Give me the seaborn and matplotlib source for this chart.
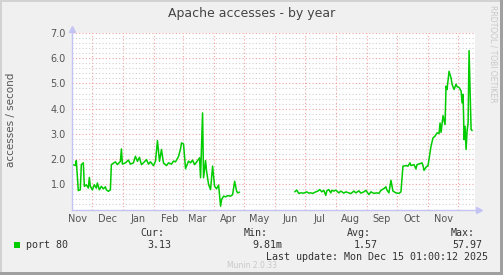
import numpy as np
import pandas as pd
import matplotlib
matplotlib.use("Agg")
import matplotlib.pyplot as plt
import matplotlib.dates as mdates
from matplotlib.ticker import MultipleLocator, FixedLocator, NullFormatter
from matplotlib.patches import Rectangle
import seaborn as sns

# ---------------- data (days after 2024-12-01, accesses/second) ----------------
seg1_days = [-19, -17, -16, -14, -12, -11, -9, -8, -6, -4, -3, -2, 0, 2, 4, 5, 7, 9, 11, 13,
             14, 16, 18, 19, 23, 25, 28, 29, 30, 33, 36, 38, 41, 43, 45, 47, 49, 51, 54, 56,
             58, 61, 63, 65, 67, 69, 71, 74, 76, 79, 81, 83, 86, 88, 89, 91, 93, 96, 98, 100,
             102, 104, 107, 108, 110, 111, 113, 114, 116, 118, 120, 122, 124, 126, 128, 129,
             131, 133, 135, 138, 140, 142, 144, 145, 147]
seg1_vals = [1.78, 1.74, 1.94, 0.75, 0.78, 1.78, 1.85, 0.92, 0.98, 0.85, 1.27, 0.92, 0.78, 0.98,
             0.85, 1.05, 0.78, 0.92, 0.82, 0.90, 0.78, 0.72, 0.78, 1.78, 1.89, 1.78, 1.91, 2.40,
             1.80, 1.85, 1.96, 1.80, 1.85, 2.11, 1.91, 2.07, 1.78, 1.85, 1.98, 1.80, 1.89, 1.74,
             1.91, 2.73, 1.91, 2.38, 1.85, 1.74, 1.85, 1.80, 1.92, 1.89, 2.10, 2.40, 2.64, 2.60,
             1.62, 1.92, 1.85, 1.96, 1.78, 1.88, 2.05, 1.26, 3.83, 1.26, 1.94, 1.52, 0.99, 0.79,
             1.72, 0.92, 0.82, 0.97, 0.13, 0.40, 0.53, 0.50, 0.55, 0.53, 0.59, 1.12, 0.73, 0.66,
             0.69]
seg2_days = [202, 204, 206, 208, 211, 214, 216, 218, 220, 223, 225, 227, 229, 231, 233, 234,
             236, 238, 239, 241, 243, 246, 248, 251, 253, 256, 258, 261, 263, 266, 268, 271,
             273, 276, 278, 281, 284, 286, 288, 291, 293, 294, 296, 298, 300, 303, 306, 308,
             310, 313, 315, 317, 318, 321, 323, 324, 327, 329, 330, 331, 333, 335, 337, 338,
             340, 342, 344, 346, 347, 348, 350, 352, 353, 354, 356, 358, 359, 361, 363, 364,
             366, 368, 369, 370, 371, 372, 373, 374, 375, 376, 378, 379]
seg2_vals = [0.70, 0.77, 0.64, 0.66, 0.65, 0.70, 0.65, 0.66, 0.64, 0.70, 0.73, 0.79, 0.70, 0.76,
             0.56, 0.74, 0.79, 0.66, 0.76, 0.73, 0.77, 0.66, 0.73, 0.65, 0.70, 0.66, 0.63, 0.73,
             0.66, 0.74, 0.65, 0.70, 0.76, 0.59, 0.70, 0.64, 0.66, 0.64, 0.76, 0.83, 0.90, 0.77,
             0.66, 1.16, 0.73, 0.66, 0.64, 0.70, 1.72, 1.74, 1.72, 1.85, 1.74, 1.78, 1.61, 1.78,
             1.82, 1.85, 1.74, 1.55, 1.68, 1.74, 2.25, 2.51, 2.84, 2.91, 3.04, 3.01, 3.43, 3.06,
             3.72, 3.37, 4.89, 4.76, 5.48, 5.22, 4.97, 4.76, 4.97, 4.87, 4.84, 4.70, 4.23, 4.57,
             2.77, 3.30, 2.38, 3.10, 3.43, 6.30, 3.17, 3.13]

y_ticks = [1, 2, 3, 4, 5, 6, 7]
month_label_dates = pd.date_range("2024-11-01", "2025-11-01", freq="MS") + pd.Timedelta(days=15)
series_name = "port 80"
stat_labels = ["Cur:", "Min:", "Avg:", "Max:"]
stat_values = ["3.13", "9.81m", "1.57", "57.97"]
title = "Apache accesses - by year"
y_label = "accesses / second"
last_update = "Last update: Mon Dec 15 01:00:12 2025"

base = pd.Timestamp("2024-12-01")
df = pd.concat([
    pd.DataFrame({"date": base + pd.to_timedelta(seg1_days, unit="D"), "value": seg1_vals, "seg": 1}),
    pd.DataFrame({"date": base + pd.to_timedelta(seg2_days, unit="D"), "value": seg2_vals, "seg": 2}),
], ignore_index=True)

# ---------------- figure ----------------
sns.set_style("white")
plt.rcParams["font.family"] = ["DejaVu Sans"]

W, H = 503, 275
fig = plt.figure(figsize=(W / 100, H / 100), dpi=100, facecolor="#F0F0F0")


def fx(x):
    return x / W


def fy(y):
    return 1 - y / H


ax = fig.add_axes([fx(72), fy(209.5), (475 - 72) / W, (209.5 - 33) / H])
ax.set_facecolor("white")

sns.lineplot(data=df, x="date", y="value", units="seg", estimator=None,
             color="#00CC00", lw=1.1, ax=ax, legend=False)

x0 = base + pd.Timedelta(days=-20.3)
x1 = base + pd.Timedelta(days=381.9)
ax.set_xlim(mdates.date2num(x0), mdates.date2num(x1))
ax.set_ylim(0, 7)

ax.xaxis.set_major_locator(mdates.MonthLocator())
ax.xaxis.set_major_formatter(NullFormatter())
ax.xaxis.set_minor_locator(FixedLocator(mdates.date2num(month_label_dates.to_pydatetime())))
ax.xaxis.set_minor_formatter(mdates.DateFormatter("%b"))
ax.yaxis.set_major_locator(FixedLocator(y_ticks))
ax.set_yticklabels([f"{v:.1f}" for v in y_ticks])
ax.yaxis.set_minor_locator(MultipleLocator(0.2))

ax.tick_params(which="both", length=0, labelsize=7, labelcolor="#555555")
ax.tick_params(axis="x", which="minor", pad=3.5)
ax.tick_params(axis="y", which="major", pad=4.5)
ax.set_xlabel("")
ax.set_ylabel("")

dot = (0, (1, 2))
ax.grid(which="major", axis="both", color="#F2A0A0", ls=dot, lw=0.8)
ax.grid(which="minor", axis="y", color="#CFCFCF", ls=dot, lw=0.8)
ax.grid(which="minor", axis="x", visible=False)
ax.set_axisbelow(True)

for s in ["top", "right"]:
    ax.spines[s].set_visible(False)
for s in ["left", "bottom"]:
    ax.spines[s].set_color("#C4C4F4")
    ax.spines[s].set_linewidth(1.0)

# axis arrows
ax.plot([0], [1.025], marker="^", ms=4, color="#C4C4F4", transform=ax.transAxes, clip_on=False)
ax.plot([1.01], [0], marker=">", ms=4, color="#C4C4F4", transform=ax.transAxes, clip_on=False)

# ---------------- texts ----------------
fig.text(fx(252), fy(14), title, ha="center", va="center", fontsize=9, color="#444444")
fig.text(fx(11), fy(120), y_label, rotation=90, ha="center", va="center",
         fontsize=7.5, color="#555555")
fig.text(fx(493), fy(5), "RRDTOOL / TOBI OETIKER", rotation=270, ha="center", va="top",
         fontsize=5.5, color="#C8C8C8")

mono = "DejaVu Sans Mono"
fs = 7.2
fig.patches.append(Rectangle((fx(14), fy(248)), 6 / W, 6 / H, transform=fig.transFigure,
                             facecolor="#00CC00", edgecolor="none"))
fig.text(fx(26), fy(245), series_name, family=mono, fontsize=fs, color="#333333",
         ha="left", va="center")
label_right = [164, 268, 371, 475]
value_right = [171, 282, 378, 482]
for lab, val, lr, vr in zip(stat_labels, stat_values, label_right, value_right):
    fig.text(fx(lr), fy(233), lab, family=mono, fontsize=fs, color="#333333",
             ha="right", va="center")
    fig.text(fx(vr), fy(245), val, family=mono, fontsize=fs, color="#333333",
             ha="right", va="center")
fig.text(fx(488), fy(257), last_update, family=mono, fontsize=fs, color="#333333",
         ha="right", va="center")
fig.text(fx(252), fy(265), "Munin 2.0.33", ha="center", va="center", fontsize=5.5,
         color="#C8C8C8")

# bevel border
fig.patches.append(Rectangle((0, 0), 2 / W, 1, transform=fig.transFigure,
                             facecolor="#D2D2D2", edgecolor="none"))
fig.patches.append(Rectangle((0, 1 - 2 / H), 1, 2 / H, transform=fig.transFigure,
                             facecolor="#D2D2D2", edgecolor="none"))
fig.patches.append(Rectangle((1 - 3 / W, 0), 3 / W, 1, transform=fig.transFigure,
                             facecolor="#A0A0A0", edgecolor="none"))
fig.patches.append(Rectangle((0, 0), 1, 3 / H, transform=fig.transFigure,
                             facecolor="#A0A0A0", edgecolor="none"))

fig.savefig("out.png", dpi=100, facecolor=fig.get_facecolor())
